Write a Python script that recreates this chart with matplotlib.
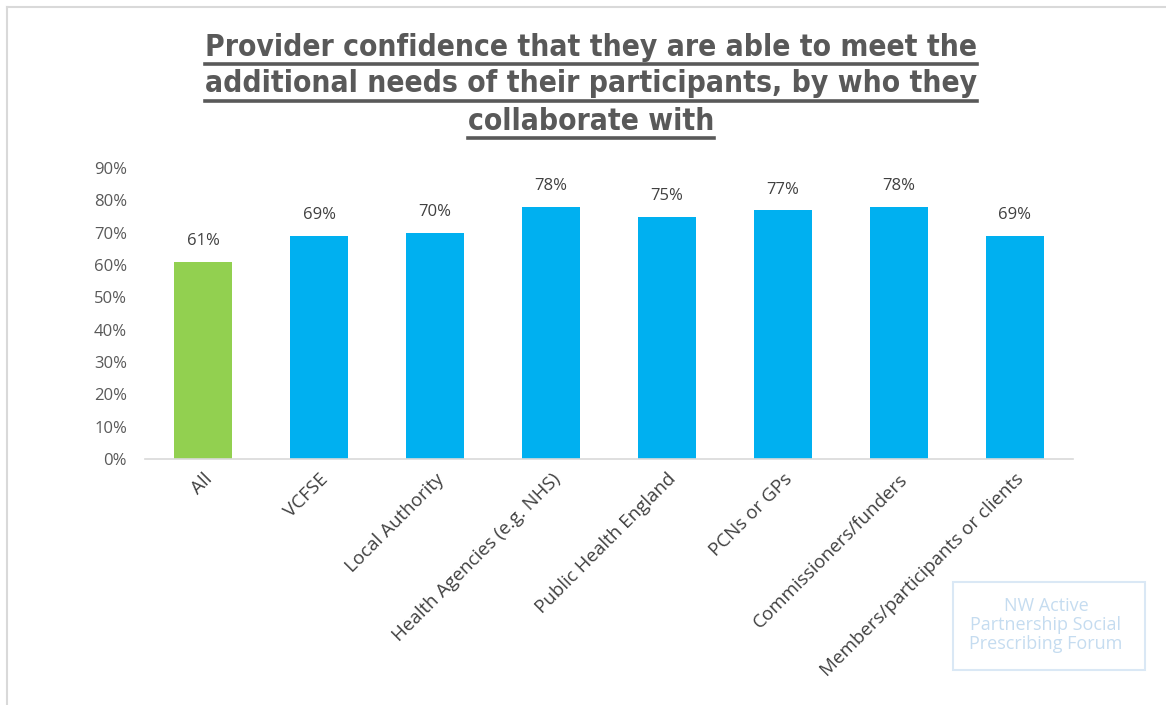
import matplotlib.pyplot as plt
from matplotlib.ticker import PercentFormatter
from matplotlib.patches import Rectangle
from matplotlib.lines import Line2D

plt.rcParams['font.family'] = ['Open Sans', 'DejaVu Sans']

# Data
categories = ['All', 'VCFSE', 'Local Authority', 'Health Agencies (e.g. NHS)',
              'Public Health England', 'PCNs or GPs', 'Commissioners/funders',
              'Members/participants or clients']
values = [61, 69, 70, 78, 75, 77, 78, 69]
bar_colors = ['#92D050'] + ['#00B0F0'] * 7
title_lines = ['Provider confidence that they are able to meet the',
               'additional needs of their participants, by who they',
               'collaborate with']

text_color = '#595959'

fig = plt.figure(figsize=(11.66, 7.05), dpi=100)
ax = fig.add_axes([0.1244, 0.3489, 0.7958, 0.4128])

x = range(len(categories))
bars = ax.bar(x, values, width=0.5, color=bar_colors, zorder=2)
for b, v in zip(bars, values):
    ax.annotate(f'{v}%', (b.get_x() + b.get_width() / 2, v),
                xytext=(0, 9), textcoords='offset points',
                ha='center', va='bottom', fontsize=12, color='#404040')

ax.set_xlim(-0.5, len(categories) - 0.5)
ax.set_ylim(0, 90)
ax.set_yticks(range(0, 91, 10))
ax.yaxis.set_major_formatter(PercentFormatter(decimals=0))
ax.set_xticks(list(x))
ax.set_xticklabels(categories, rotation=45, ha='right', rotation_mode='anchor',
                   fontsize=13.5, color='#404040')
ax.tick_params(axis='y', labelsize=12, labelcolor=text_color, length=0, pad=13)
ax.tick_params(axis='x', length=0, pad=8)
for s in ['top', 'right', 'left']:
    ax.spines[s].set_visible(False)
ax.spines['bottom'].set_color('#D9D9D9')
ax.spines['bottom'].set_linewidth(1.2)

# Underlined title, one line at a time
fig.canvas.draw()
renderer = fig.canvas.get_renderer()
line_y = [0.933, 0.881, 0.828]
for line, yy in zip(title_lines, line_y):
    t = fig.text(0.507, yy, line, ha='center', va='center', fontsize=21.5,
                 fontweight='bold', fontstretch='condensed',
                 family=['DejaVu Sans'], color=text_color)
    bb = t.get_window_extent(renderer).transformed(fig.transFigure.inverted())
    uy = bb.y0 - 0.003
    fig.add_artist(Line2D([bb.x0, bb.x1], [uy, uy], color=text_color, lw=2.6,
                          transform=fig.transFigure))

# Chart area frame edges
fig.add_artist(Line2D([0.006, 0.006], [0.0, 0.99], color='#D9D9D9', lw=1.5,
                      transform=fig.transFigure))
fig.add_artist(Line2D([0.006, 1.0], [0.99, 0.99], color='#D9D9D9', lw=1.5,
                      transform=fig.transFigure))

# Watermark box
fig.add_artist(Rectangle((953 / 1166, 1 - 670 / 705), 192 / 1166, 88 / 705,
                         fill=False, edgecolor='#DAE8F5', lw=1.5,
                         transform=fig.transFigure))
fig.text(1046 / 1166, 1 - 625 / 705,
         'NW Active\nPartnership Social\nPrescribing Forum',
         ha='center', va='center', fontsize=13, color='#C5DCF0',
         linespacing=1.05)

fig.savefig('out.png', dpi=100)
